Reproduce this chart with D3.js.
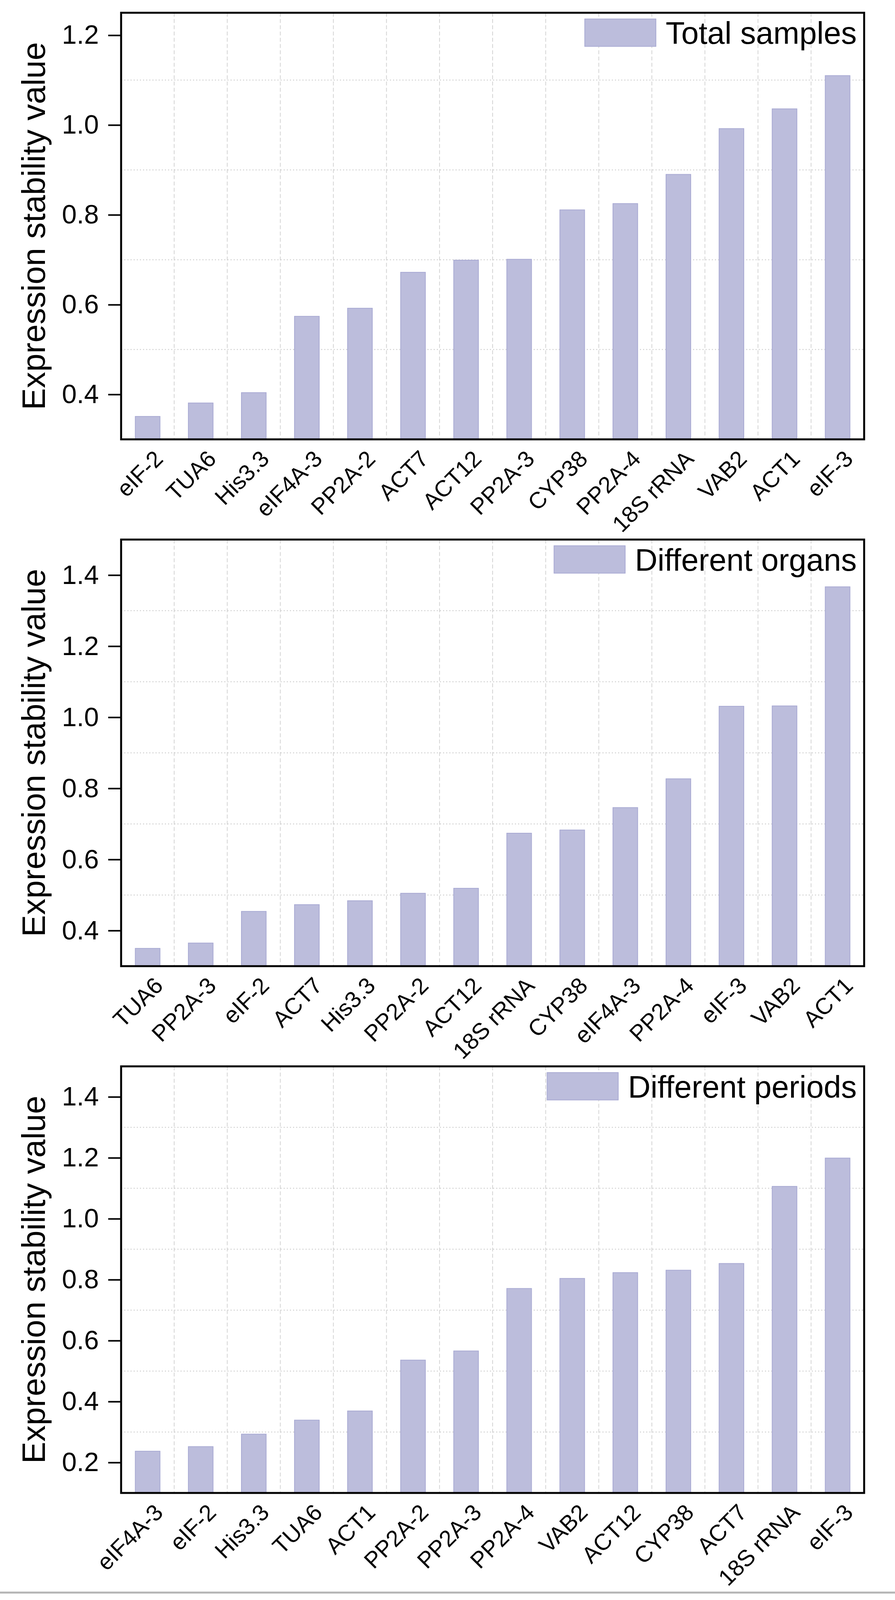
<!DOCTYPE html>
<html>
<head>
<meta charset="utf-8">
<script src="https://d3js.org/d3.v7.min.js"></script>
<style>
  body { margin: 0; background: white; }
  svg { display: block; }
  svg text { font-family: "Liberation Sans", Arial, Helvetica, sans-serif; fill: #000; }
</style>
</head>
<body>
<div id="chart"></div>
<script>
// data
var cats1 = ["eIF-2", "TUA6", "His3.3", "eIF4A-3", "PP2A-2", "ACT7", "ACT12", "PP2A-3", "CYP38", "PP2A-4", "18S rRNA", "VAB2", "ACT1", "eIF-3"];
var vals1 = [0.351, 0.381, 0.404, 0.574, 0.592, 0.672, 0.699, 0.701, 0.811, 0.825, 0.890, 0.992, 1.036, 1.110];

var cats2 = ["TUA6", "PP2A-3", "eIF-2", "ACT7", "His3.3", "PP2A-2", "ACT12", "18S rRNA", "CYP38", "eIF4A-3", "PP2A-4", "eIF-3", "VAB2", "ACT1"];
var vals2 = [0.350, 0.365, 0.454, 0.473, 0.484, 0.505, 0.519, 0.674, 0.683, 0.746, 0.827, 1.031, 1.032, 1.367];

var cats3 = ["eIF4A-3", "eIF-2", "His3.3", "TUA6", "ACT1", "PP2A-2", "PP2A-3", "PP2A-4", "VAB2", "ACT12", "CYP38", "ACT7", "18S rRNA", "eIF-3"];
var vals3 = [0.237, 0.252, 0.293, 0.339, 0.369, 0.536, 0.566, 0.771, 0.804, 0.823, 0.831, 0.853, 1.106, 1.199];

var legends = ["Total samples", "Different organs", "Different periods"];
var yDomains = [[0.3, 1.25], [0.3, 1.5], [0.1, 1.5]];
var yTicks = [
  [0.4, 0.6, 0.8, 1.0, 1.2],
  [0.4, 0.6, 0.8, 1.0, 1.2, 1.4],
  [0.2, 0.4, 0.6, 0.8, 1.0, 1.2, 1.4]
];
var yLabel = "Expression stability value";

// the figure is 2291 x 5142; if the window is shorter, squeeze it vertically so all of it shows
var W = 2291, H = 5142;
var sy = Math.min(1, (window.innerHeight || H) / H);
var fs = Math.sqrt(sy);

var left = 310, right = 2212;
var tops = [41, 1734, 3427].map(function(t) { return t * sy; });
var plotH = 1371 * sy;
var barFill = "#bcbddc", barStroke = "#a9aad3";

var svg = d3.select("#chart")
  .append("svg")
    .attr("width", W)
    .attr("height", H * sy);

var panels = [
  {cats: cats1, vals: vals1},
  {cats: cats2, vals: vals2},
  {cats: cats3, vals: vals3}
];

panels.forEach(function(p, k) {
  var top = tops[k], bottom = top + plotH;
  var g = svg.append("g");

  var x = d3.scaleBand()
    .domain(p.cats)
    .range([left, right])
    .paddingInner(0.535)
    .paddingOuter(0.2675);

  var y = d3.scaleLinear()
    .domain(yDomains[k])
    .range([bottom, top]);

  // horizontal dotted grid at the odd tenths
  var minor = yTicks[k].map(function(t) { return +(t + 0.1).toFixed(1); })
    .filter(function(v) { return v < yDomains[k][1] - 1e-6; });
  g.append("g").selectAll("line")
    .data(minor).enter().append("line")
      .attr("x1", left).attr("x2", right)
      .attr("y1", function(d) { return y(d); })
      .attr("y2", function(d) { return y(d); })
      .attr("stroke", "#d4d4d4")
      .attr("stroke-width", 2.5)
      .attr("stroke-dasharray", "3,5");

  // vertical dashed grid between the bars
  var bounds = d3.range(1, p.cats.length).map(function(i) { return left + i * x.step(); });
  g.append("g").selectAll("line")
    .data(bounds).enter().append("line")
      .attr("x1", function(d) { return d; })
      .attr("x2", function(d) { return d; })
      .attr("y1", top).attr("y2", bottom)
      .attr("stroke", "#d4d4d4")
      .attr("stroke-width", 2)
      .attr("stroke-dasharray", "10,6");

  // bars
  g.append("g").selectAll("rect")
    .data(p.cats).enter().append("rect")
      .attr("x", function(d) { return x(d); })
      .attr("y", function(d, i) { return y(p.vals[i]); })
      .attr("width", x.bandwidth())
      .attr("height", function(d, i) { return bottom - y(p.vals[i]); })
      .attr("fill", barFill)
      .attr("stroke", barStroke)
      .attr("stroke-width", 2);

  // y axis ticks and labels
  var yAxis = g.append("g")
    .attr("transform", "translate(" + left + ",0)")
    .call(d3.axisLeft(y).tickValues(yTicks[k]).tickFormat(d3.format(".1f")).tickSize(33).tickPadding(24));
  yAxis.select(".domain").remove();
  yAxis.selectAll(".tick line").attr("stroke", "#000").attr("stroke-width", 4);
  yAxis.selectAll(".tick text")
    .style("font-family", "'Liberation Sans', Arial, sans-serif")
    .style("font-size", "68px")
    .attr("fill", "#000");

  // x labels rotated
  g.append("g").selectAll("text")
    .data(p.cats).enter().append("text")
      .attr("text-anchor", "end")
      .attr("transform", function(d) {
        return "translate(" + (x(d) + x.bandwidth() / 2 + 48 * fs) + "," + (bottom + 60 * fs) + ") rotate(-45)";
      })
      .style("font-size", (66 * fs) + "px")
      .text(function(d) { return d; });

  // frame
  g.append("rect")
    .attr("x", left).attr("y", top)
    .attr("width", right - left).attr("height", plotH)
    .attr("fill", "none")
    .attr("stroke", "#000")
    .attr("stroke-width", 5);

  // y title
  g.append("text")
    .attr("text-anchor", "middle")
    .attr("transform", "translate(115," + ((top + bottom) / 2) + ") rotate(-90)")
    .style("font-size", (94 * fs) + "px")
    .text(yLabel);

  // legend, right aligned in the plot
  var lt = g.append("text")
    .attr("text-anchor", "end")
    .attr("x", right - 19)
    .attr("y", top + 64 * sy)
    .attr("dy", "0.36em")
    .style("font-size", "80px")
    .text(legends[k]);
  var tw = lt.node().getComputedTextLength();
  g.append("rect")
    .attr("x", right - 19 - tw - 25 - 182)
    .attr("y", top + 20 * sy)
    .attr("width", 182)
    .attr("height", 88 * sy)
    .attr("fill", barFill)
    .attr("stroke", barStroke)
    .attr("stroke-width", 2);
});

// grey rule along the bottom
svg.append("line")
  .attr("x1", 0).attr("x2", W)
  .attr("y1", H * sy - 24 * sy).attr("y2", H * sy - 24 * sy)
  .attr("stroke", "#b5b5b5")
  .attr("stroke-width", 5);
</script>
</body>
</html>
